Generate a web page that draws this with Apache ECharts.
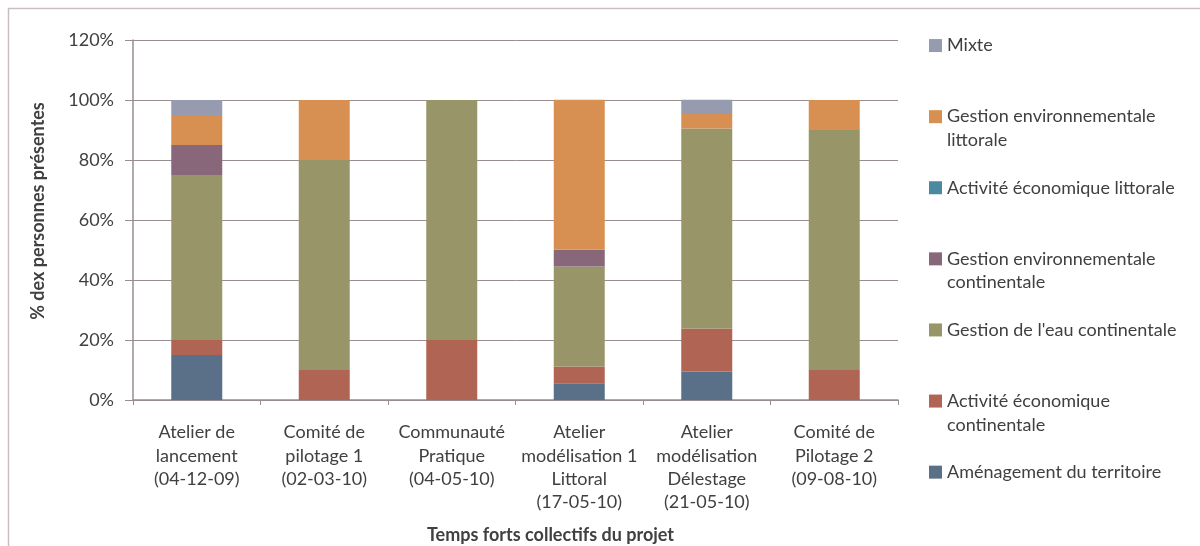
<!DOCTYPE html>
<html>
<head>
<meta charset="utf-8">
<script src="https://cdn.jsdelivr.net/npm/echarts@6/dist/echarts.min.js"></script>
<style>
  html, body { margin: 0; padding: 0; background: #fff; }
  #chart { width: 1200px; height: 546px; }
</style>
</head>
<body>
<div id="chart"></div>
<script>
// Categories (x axis), multi-line like the original Excel chart
const categories = [
  'Atelier de\nlancement\n(04-12-09)',
  'Comité de\npilotage 1\n(02-03-10)',
  'Communauté\nPratique\n(04-05-10)',
  'Atelier\nmodélisation 1\nLittoral\n(17-05-10)',
  'Atelier\nmodélisation\nDélestage\n(21-05-10)',
  'Comité de\nPilotage 2\n(09-08-10)'
];

// Share of attendees (%) per group, bottom of the stack first
const amenagement = [15, 0, 0, 5.6, 9.5, 0];
const activiteEcoCont = [5, 10, 20, 5.6, 14.3, 10];
const gestionEauCont = [55, 70, 80, 33.3, 66.7, 80];
const gestionEnvCont = [10, 0, 0, 5.6, 0, 0];
const activiteEcoLitt = [0, 0, 0, 0, 0, 0];
const gestionEnvLitt = [10, 20, 0, 50, 4.8, 10];
const mixte = [5, 0, 0, 0, 4.8, 0];

const yTicks = [0, 20, 40, 60, 80, 100, 120];

// ----------------------------------------------------------------------------
// Series definitions (name, data, colour)
// ----------------------------------------------------------------------------
const SERIES = [
  { name: 'Aménagement du territoire', data: amenagement, color: '#5a7089' },
  { name: 'Activité économique continentale', data: activiteEcoCont, color: '#b06453' },
  { name: "Gestion de l'eau continentale", data: gestionEauCont, color: '#989668' },
  { name: 'Gestion environnementale continentale', data: gestionEnvCont, color: '#876779' },
  { name: 'Activité économique littorale', data: activiteEcoLitt, color: '#4b89a1' },
  { name: 'Gestion environnementale littorale', data: gestionEnvLitt, color: '#d89052' },
  { name: 'Mixte', data: mixte, color: '#979bb0' }
];

// Wrapped legend labels (Excel wraps the long ones on two lines).
// A leading empty line keeps the first text line level with the colour box.
const LEGEND_TEXT = {
  'Activité économique continentale': '\nActivité économique\ncontinentale',
  'Gestion environnementale continentale': '\nGestion environnementale\ncontinentale',
  'Gestion environnementale littorale': '\nGestion environnementale\nlittorale'
};

const FONT = 'Lato';
const TEXT = '#404040';
const AXIS = '#988e8e';
const LH = 23.3;
const LEG_LH = 23.7;

const chart = echarts.init(document.getElementById('chart'));

// Every legend item gets the same box height (3 lines) so the spacing stays even
const legendData = SERIES.slice().reverse().map(s => ({
  name: s.name,
  textStyle: {
    padding: LEGEND_TEXT[s.name] ? 0 : [LEG_LH, 0, LEG_LH, 0],
    backgroundColor: 'rgba(255,255,255,0)'
  }
}));

const option = {
  animation: false,
  textStyle: { fontFamily: FONT },

  graphic: [{
    type: 'rect',
    shape: { x: 8.5, y: 8.5, width: 1300, height: 700 },
    style: { fill: 'none', stroke: '#c9bfbf', lineWidth: 1.5 },
    silent: true
  }],

  // fixed plot box, no automatic shrinking to fit the labels
  grid: { left: 133, right: 302, top: 40, bottom: 146, containLabel: false, outerBoundsMode: 'none' },

  legend: {
    orient: 'vertical',
    left: 929,
    top: 10,
    padding: 0,
    itemGap: 0,
    itemWidth: 13,
    itemHeight: 13,
    icon: 'rect',
    data: legendData,
    formatter: name => LEGEND_TEXT[name] || name,
    textStyle: { fontFamily: FONT, fontSize: 18, color: TEXT, lineHeight: LEG_LH }
  },

  xAxis: {
    type: 'category',
    data: categories,
    name: 'Temps forts collectifs du projet',
    nameLocation: 'middle',
    nameGap: 126,
    nameTextStyle: {
      fontFamily: FONT, fontSize: 18, fontWeight: 'bold', color: TEXT,
      padding: [0, 0, 0, 70]
    },
    axisLine: { lineStyle: { color: AXIS, width: 1.5 } },
    axisTick: { show: true, length: 5, lineStyle: { color: AXIS, width: 1 } },
    axisLabel: {
      interval: 0, margin: 21, fontFamily: FONT, fontSize: 18,
      color: TEXT, lineHeight: LH
    }
  },

  yAxis: {
    type: 'value',
    min: 0,
    max: yTicks[yTicks.length - 1],
    interval: yTicks[1] - yTicks[0],
    name: '% dex personnes présentes',
    nameLocation: 'middle',
    nameGap: 86,
    nameTextStyle: {
      fontFamily: FONT, fontSize: 18, fontWeight: 'bold', color: TEXT,
      padding: [0, 0, 0, 18]
    },
    axisLine: { show: true, lineStyle: { color: AXIS, width: 1.5 } },
    axisTick: { show: true, length: 8, lineStyle: { color: AXIS, width: 1 } },
    splitLine: { lineStyle: { color: AXIS, width: 1 } },
    axisLabel: {
      margin: 19, fontFamily: FONT, fontSize: 18, color: TEXT,
      formatter: '{value}%'
    }
  },

  series: SERIES.map(s => ({
    name: s.name,
    type: 'bar',
    stack: 'total',
    barWidth: 51,
    data: s.data,
    itemStyle: { color: s.color }
  }))
};

chart.setOption(option);
window.addEventListener('resize', () => chart.resize());
</script>
</body>
</html>
